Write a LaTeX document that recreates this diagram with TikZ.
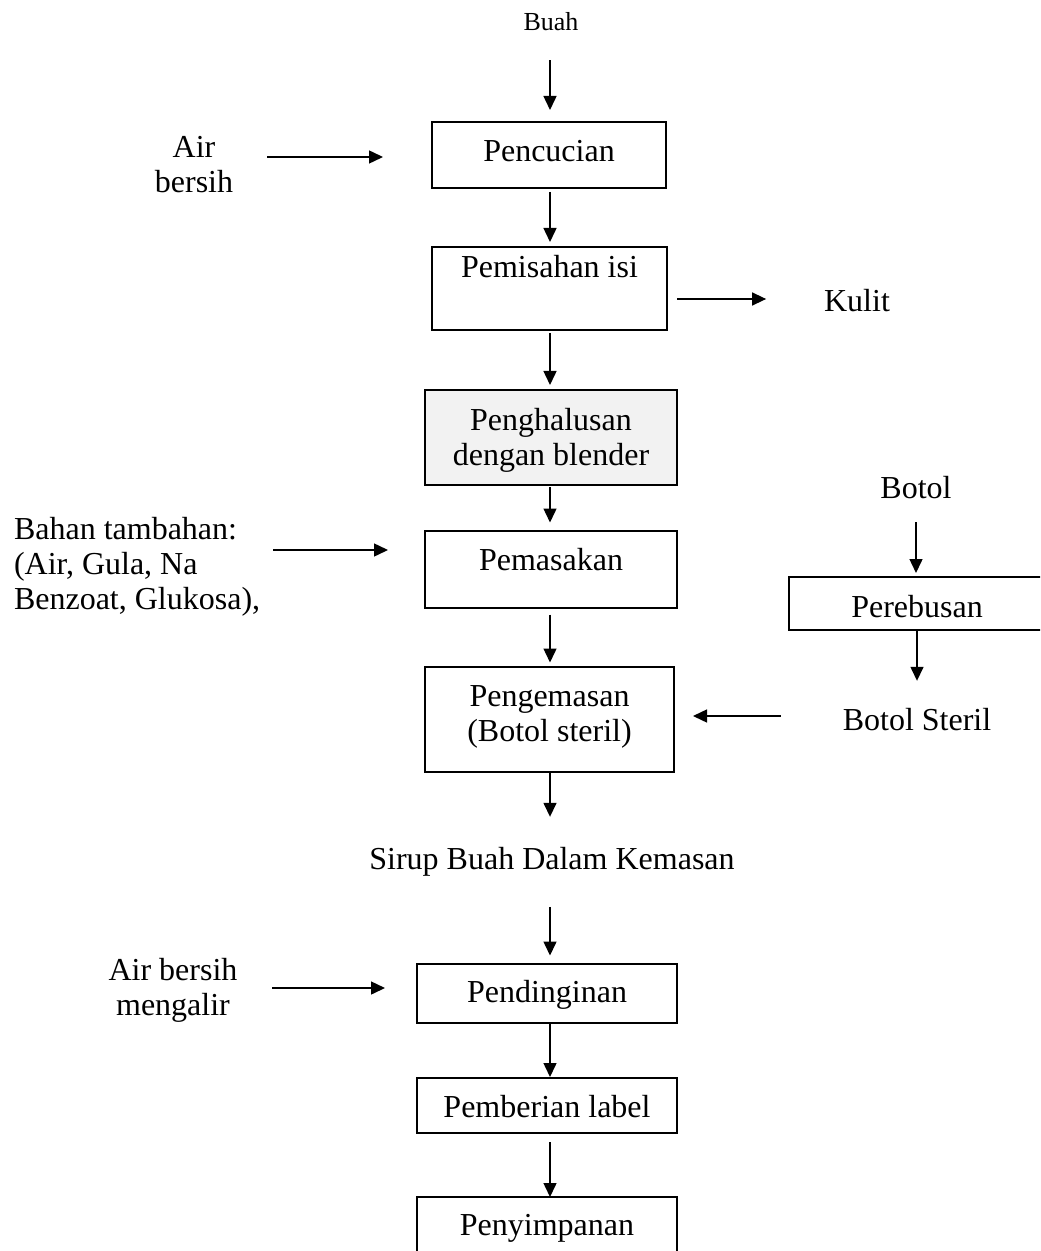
\documentclass[tikz,border=0pt]{standalone}
\usepackage{fontspec}
\setmainfont{Liberation Serif}
\usetikzlibrary{arrows.meta,calc}
\begin{document}
\begin{tikzpicture}[x=0.75pt,y=-0.75pt,
  every node/.style={inner sep=0pt,outer sep=0pt},
  big/.style={font=\fontsize{24}{26.25}\selectfont},
  txt/.style={big,anchor=base},
  box/.style={draw,line width=1.5pt,big},
  arr/.style={line width=1.1pt,-{Triangle[length=10.5pt,width=9.75pt]}}]

\useasboundingbox (0,0) rectangle (1040,1251);
\clip (0,0) rectangle (1040,1251);

% main column
\node[txt,font=\fontsize{19.5}{22}\selectfont] (buah) at (551,31) {Buah};
\node[box,minimum width=175.5pt,minimum height=49.5pt,text height=10.5pt,text depth=0pt]
  (pencucian) at (549,155) {Pencucian};
\node[box,minimum width=176.25pt,minimum height=62.25pt,text height=0pt,text depth=15.75pt]
  (pemisahan) at (549.5,288.5) {Pemisahan isi};
\node[box,fill=black!5,minimum width=189pt,minimum height=71.25pt,text height=0pt,text depth=11.25pt]
  (penghalusan) at (551,437.5) {\begin{tabular}[t]{@{}c@{}}Penghalusan\\dengan blender\end{tabular}};
\node[box,minimum width=189pt,minimum height=57.75pt,text height=2.55pt,text depth=0pt]
  (pemasakan) at (551,569) {Pemasakan};
\node[box,minimum width=186.75pt,minimum height=78.75pt,text height=0pt,text depth=19.5pt]
  (pengemasan) at (549.5,719) {\begin{tabular}[t]{@{}c@{}}Pengemasan\\(Botol steril)\end{tabular}};
\node[txt] (sirup) at (552,869) {Sirup Buah Dalam Kemasan};
\node[box,minimum width=195pt,minimum height=44.25pt,text height=14.55pt,text depth=0pt]
  (pendinginan) at (547,993) {Pendinginan};
\node[box,minimum width=195pt,minimum height=41.25pt,text height=18.3pt,text depth=0pt]
  (pemberian) at (547,1105.5) {Pemberian label};
\node[box,minimum width=195pt,minimum height=64.5pt,text height=0pt,text depth=7.5pt]
  (penyimpanan) at (547,1240) {Penyimpanan};

% side inputs and outputs
\node[txt] (air1) at (194,158) {\begin{tabular}[t]{@{}c@{}}Air\\bersih\end{tabular}};
\node[txt,anchor=base west] (bahan) at (14,539)
  {\begin{tabular}[t]{@{}l@{}}Bahan tambahan:\\(Air, Gula, Na\\Benzoat, Glukosa),\end{tabular}};
\node[txt] (air2) at (173,980) {\begin{tabular}[t]{@{}c@{}}Air bersih\\mengalir\end{tabular}};
\node[txt] (kulit) at (857,312) {Kulit};
\node[txt] (botol) at (916,498) {Botol};
\node[box,line width=1.2pt,minimum width=192pt,minimum height=39.75pt,text height=20.25pt,text depth=0pt]
  (perebusan) at (917,603.5) {Perebusan};
\node[txt] (botolsteril) at (917,730) {Botol Steril};

\coordinate (spine) at (550,0);

% flow along the main column
\draw[arr] ($(buah.south -| spine)+(0,29)$) -- ($(pencucian.north -| spine)+(0,-12)$);
\draw[arr] ($(pencucian.south -| spine)+(0,4)$) -- ($(pemisahan.north -| spine)+(0,-5)$);
\draw[arr] ($(pemisahan.south -| spine)+(0,3)$) -- ($(penghalusan.north -| spine)+(0,-5)$);
\draw[arr] ($(penghalusan.south -| spine)+(0,2)$) -- ($(pemasakan.north -| spine)+(0,-8)$);
\draw[arr] ($(pemasakan.south -| spine)+(0,7)$) -- ($(pengemasan.north -| spine)+(0,-4)$);
\draw[arr] ($(pengemasan.south -| spine)+(0,1)$) -- ($(sirup.north -| spine)+(0,-30)$);
\draw[arr] ($(sirup.south -| spine)+(0,31)$) -- ($(pendinginan.north -| spine)+(0,-8)$);
\draw[arr] (pendinginan.south -| spine) -- ($(pemberian.north -| spine)+(0,-1)$);
\draw[arr] ($(pemberian.south -| spine)+(0,9)$) -- (penyimpanan.north -| spine);

% side connectors
\draw[arr] ($(air1.east |- pencucian.west)+(34,2)$) -- ($(pencucian.west)+(-49,2)$);
\draw[arr] ($(pemisahan.east)+(10,10.5)$) -- ($(kulit.west |- pemisahan.east)+(-58,10.5)$);
\draw[arr] ($(bahan.east |- pemasakan.west)+(13,-19)$) -- ($(pemasakan.west)+(-37,-19)$);
\draw[arr] ($(botol.south)+(0,24)$) -- ($(perebusan.north -| botol.south)+(0,-4)$);
\draw[arr] (perebusan.south) -- ($(botolsteril.north)+(0,-27)$);
\draw[arr] ($(botolsteril.west |- pengemasan.east)+(-62,-3)$) -- ($(pengemasan.east)+(19,-3)$);
\draw[arr] ($(air2.east |- pendinginan.west)+(35,-5)$) -- ($(pendinginan.west)+(-32,-5)$);

\end{tikzpicture}
\end{document}
